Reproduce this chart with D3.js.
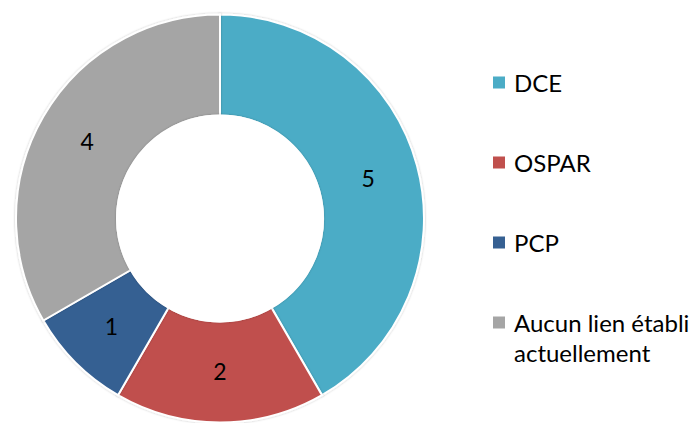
<!DOCTYPE html>
<html>
<head>
<meta charset="utf-8">
<script src="https://cdn.jsdelivr.net/npm/d3@7"></script>
<style>
  body { margin: 0; background: #fff; }
  text { font-family: Lato, "Open Sans", sans-serif; fill: #000; }
</style>
</head>
<body>
<script>
// Chart data
var categories = ["DCE", "OSPAR", "PCP", "Aucun lien établi actuellement"];
var values = [5, 2, 1, 4];
var colors = ["#4BACC6", "#C0504D", "#366092", "#A5A5A5"];
var legendLines = [["DCE"], ["OSPAR"], ["PCP"], ["Aucun lien établi", "actuellement"]];

var svgWidth = 696;
var svgHeight = 423;

var cx = 220, cy = 218.5;
var outerR = 204, innerR = 103;

var svg = d3.select("body")
  .append("svg")
  .attr("width", svgWidth)
  .attr("height", svgHeight);

var defs = svg.append("defs");
var shadow = defs.append("filter")
  .attr("id", "soft")
  .attr("x", "-10%").attr("y", "-10%")
  .attr("width", "120%").attr("height", "120%");
shadow.append("feDropShadow")
  .attr("dx", 0).attr("dy", 0)
  .attr("stdDeviation", 1.2)
  .attr("flood-color", "#000")
  .attr("flood-opacity", 0.25);

var data = categories.map((c, i) => ({ name: c, value: values[i], color: colors[i] }));

var pie = d3.pie()
  .value(d => d.value)
  .sort(null);

var arc = d3.arc()
  .innerRadius(innerR)
  .outerRadius(outerR);

var labelArc = d3.arc()
  .innerRadius((innerR + outerR) / 2)
  .outerRadius((innerR + outerR) / 2);

var chartGroup = svg.append("g")
  .attr("transform", `translate(${cx}, ${cy})`);

chartGroup.selectAll(".slice")
  .data(pie(data))
  .enter()
  .append("path")
  .attr("class", "slice")
  .attr("d", arc)
  .attr("fill", d => d.data.color)
  .attr("stroke", "#fff")
  .attr("stroke-width", 2)
  .attr("filter", "url(#soft)");

// inner hole edge
chartGroup.append("circle")
  .attr("r", innerR)
  .attr("fill", "#fff")
  .attr("stroke", "#fff")
  .attr("stroke-width", 2)
  .attr("filter", "url(#soft)");

chartGroup.selectAll(".lbl")
  .data(pie(data))
  .enter()
  .append("text")
  .attr("class", "lbl")
  .attr("transform", d => `translate(${labelArc.centroid(d)})`)
  .attr("text-anchor", "middle")
  .attr("dy", "0.36em")
  .style("font-size", "23px")
  .text(d => d.data.value);

// Legend
var legend = svg.append("g")
  .attr("transform", "translate(493, 83)");

var item = legend.selectAll(".item")
  .data(data)
  .enter()
  .append("g")
  .attr("class", "item")
  .attr("transform", (d, i) => `translate(0, ${i * 80})`);

item.append("rect")
  .attr("x", 0)
  .attr("y", -6.5)
  .attr("width", 12)
  .attr("height", 12)
  .attr("fill", d => d.color);

item.append("text")
  .attr("x", 21)
  .attr("y", 0)
  .style("font-size", "24px")
  .selectAll("tspan")
  .data((d, i) => legendLines[i])
  .enter()
  .append("tspan")
  .attr("x", 21)
  .attr("dy", (t, j) => j === 0 ? "0.36em" : "1.25em")
  .text(t => t);
</script>
</body>
</html>
